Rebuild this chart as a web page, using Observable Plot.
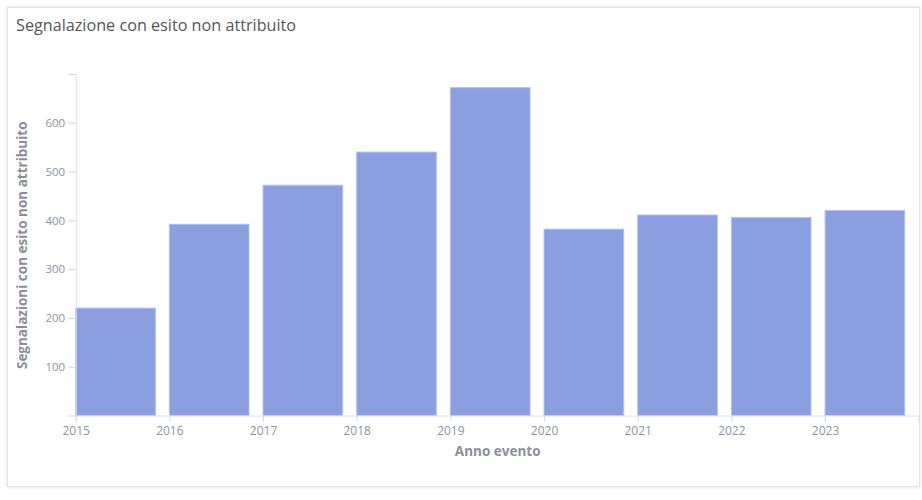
<!DOCTYPE html>
<html><head><meta charset="utf-8">
<script src="https://cdn.jsdelivr.net/npm/d3@7"></script>
<script src="https://cdn.jsdelivr.net/npm/@observablehq/plot@0.6"></script>
<style>
  body{margin:0;width:922px;height:500px;background:#fff;position:relative;overflow:hidden;font-family:"Open Sans",sans-serif;}
  #card{position:absolute;left:7px;top:7px;width:911px;height:478px;border:1px solid #e3e3e3;box-shadow:0 0 4px rgba(0,0,0,0.12);background:#fff;}
  #title{position:absolute;left:16px;top:14px;font-size:16.2px;color:#555;font-family:"Open Sans",sans-serif;}
  #chart{position:absolute;left:0;top:47px;}
</style></head>
<body>
<div id="card"></div>
<div id="title">Segnalazione con esito non attribuito</div>
<div id="chart"></div>
<script>
const years = [2015, 2016, 2017, 2018, 2019, 2020, 2021, 2022, 2023];
const values = [220, 392, 472, 540, 672, 382, 411, 406, 420];
const xTicks = [2015, 2016, 2017, 2018, 2019, 2020, 2021, 2022, 2023, 2024];
const yTicks = [0, 100, 200, 300, 400, 500, 600, 700];
const yTitle = "Segnalazioni con esito non attribuito";
const xTitle = "Anno evento";

const data = years.map((y, i) => ({year: y, value: values[i]}));
const labelColor = "#8a93a3";
const lineColor = "#e0e0e0";

const chart = Plot.plot({
  width: 922,
  height: 440,
  marginTop: 27,
  marginBottom: 71.5,
  marginLeft: 75.7,
  marginRight: 3.3,
  style: {fontFamily: "'Open Sans', sans-serif", background: "transparent", overflow: "visible"},
  x: {domain: [2015, 2024]},
  y: {domain: [0, 700]},
  marks: [
    Plot.rectY(data, {x1: "year", x2: d => d.year + 1, y: "value", fill: "#8b9ee0", stroke: "#b3c0ee", strokeWidth: 1, insetRight: 14}),
    Plot.ruleX([2015], {stroke: lineColor}),
    Plot.ruleY([0], {stroke: lineColor}),
    Plot.axisX({ticks: xTicks, tickFormat: d => d === 2024 ? "" : String(d), tickSize: 6, tickPadding: 4, stroke: "#d6d6d6", fill: labelColor, fontSize: 12, label: null}),
    Plot.axisY({ticks: yTicks, tickFormat: d => (d === 0 || d === 700) ? "" : String(d), tickSize: 7, tickPadding: 4, stroke: "#d6d6d6", fill: labelColor, fontSize: 11.5, label: null}),
    Plot.text([yTitle], {text: d => d, frameAnchor: "left", textAnchor: "middle", rotate: -90, dx: -54, fill: "#8a8f99", fontWeight: "bold", fontSize: 13.5}),
    Plot.text([xTitle], {text: d => d, frameAnchor: "bottom", dy: 40, fill: "#8a8f99", fontWeight: "bold", fontSize: 13.5})
  ]
});
document.getElementById("chart").appendChild(chart);
</script>
</body></html>
